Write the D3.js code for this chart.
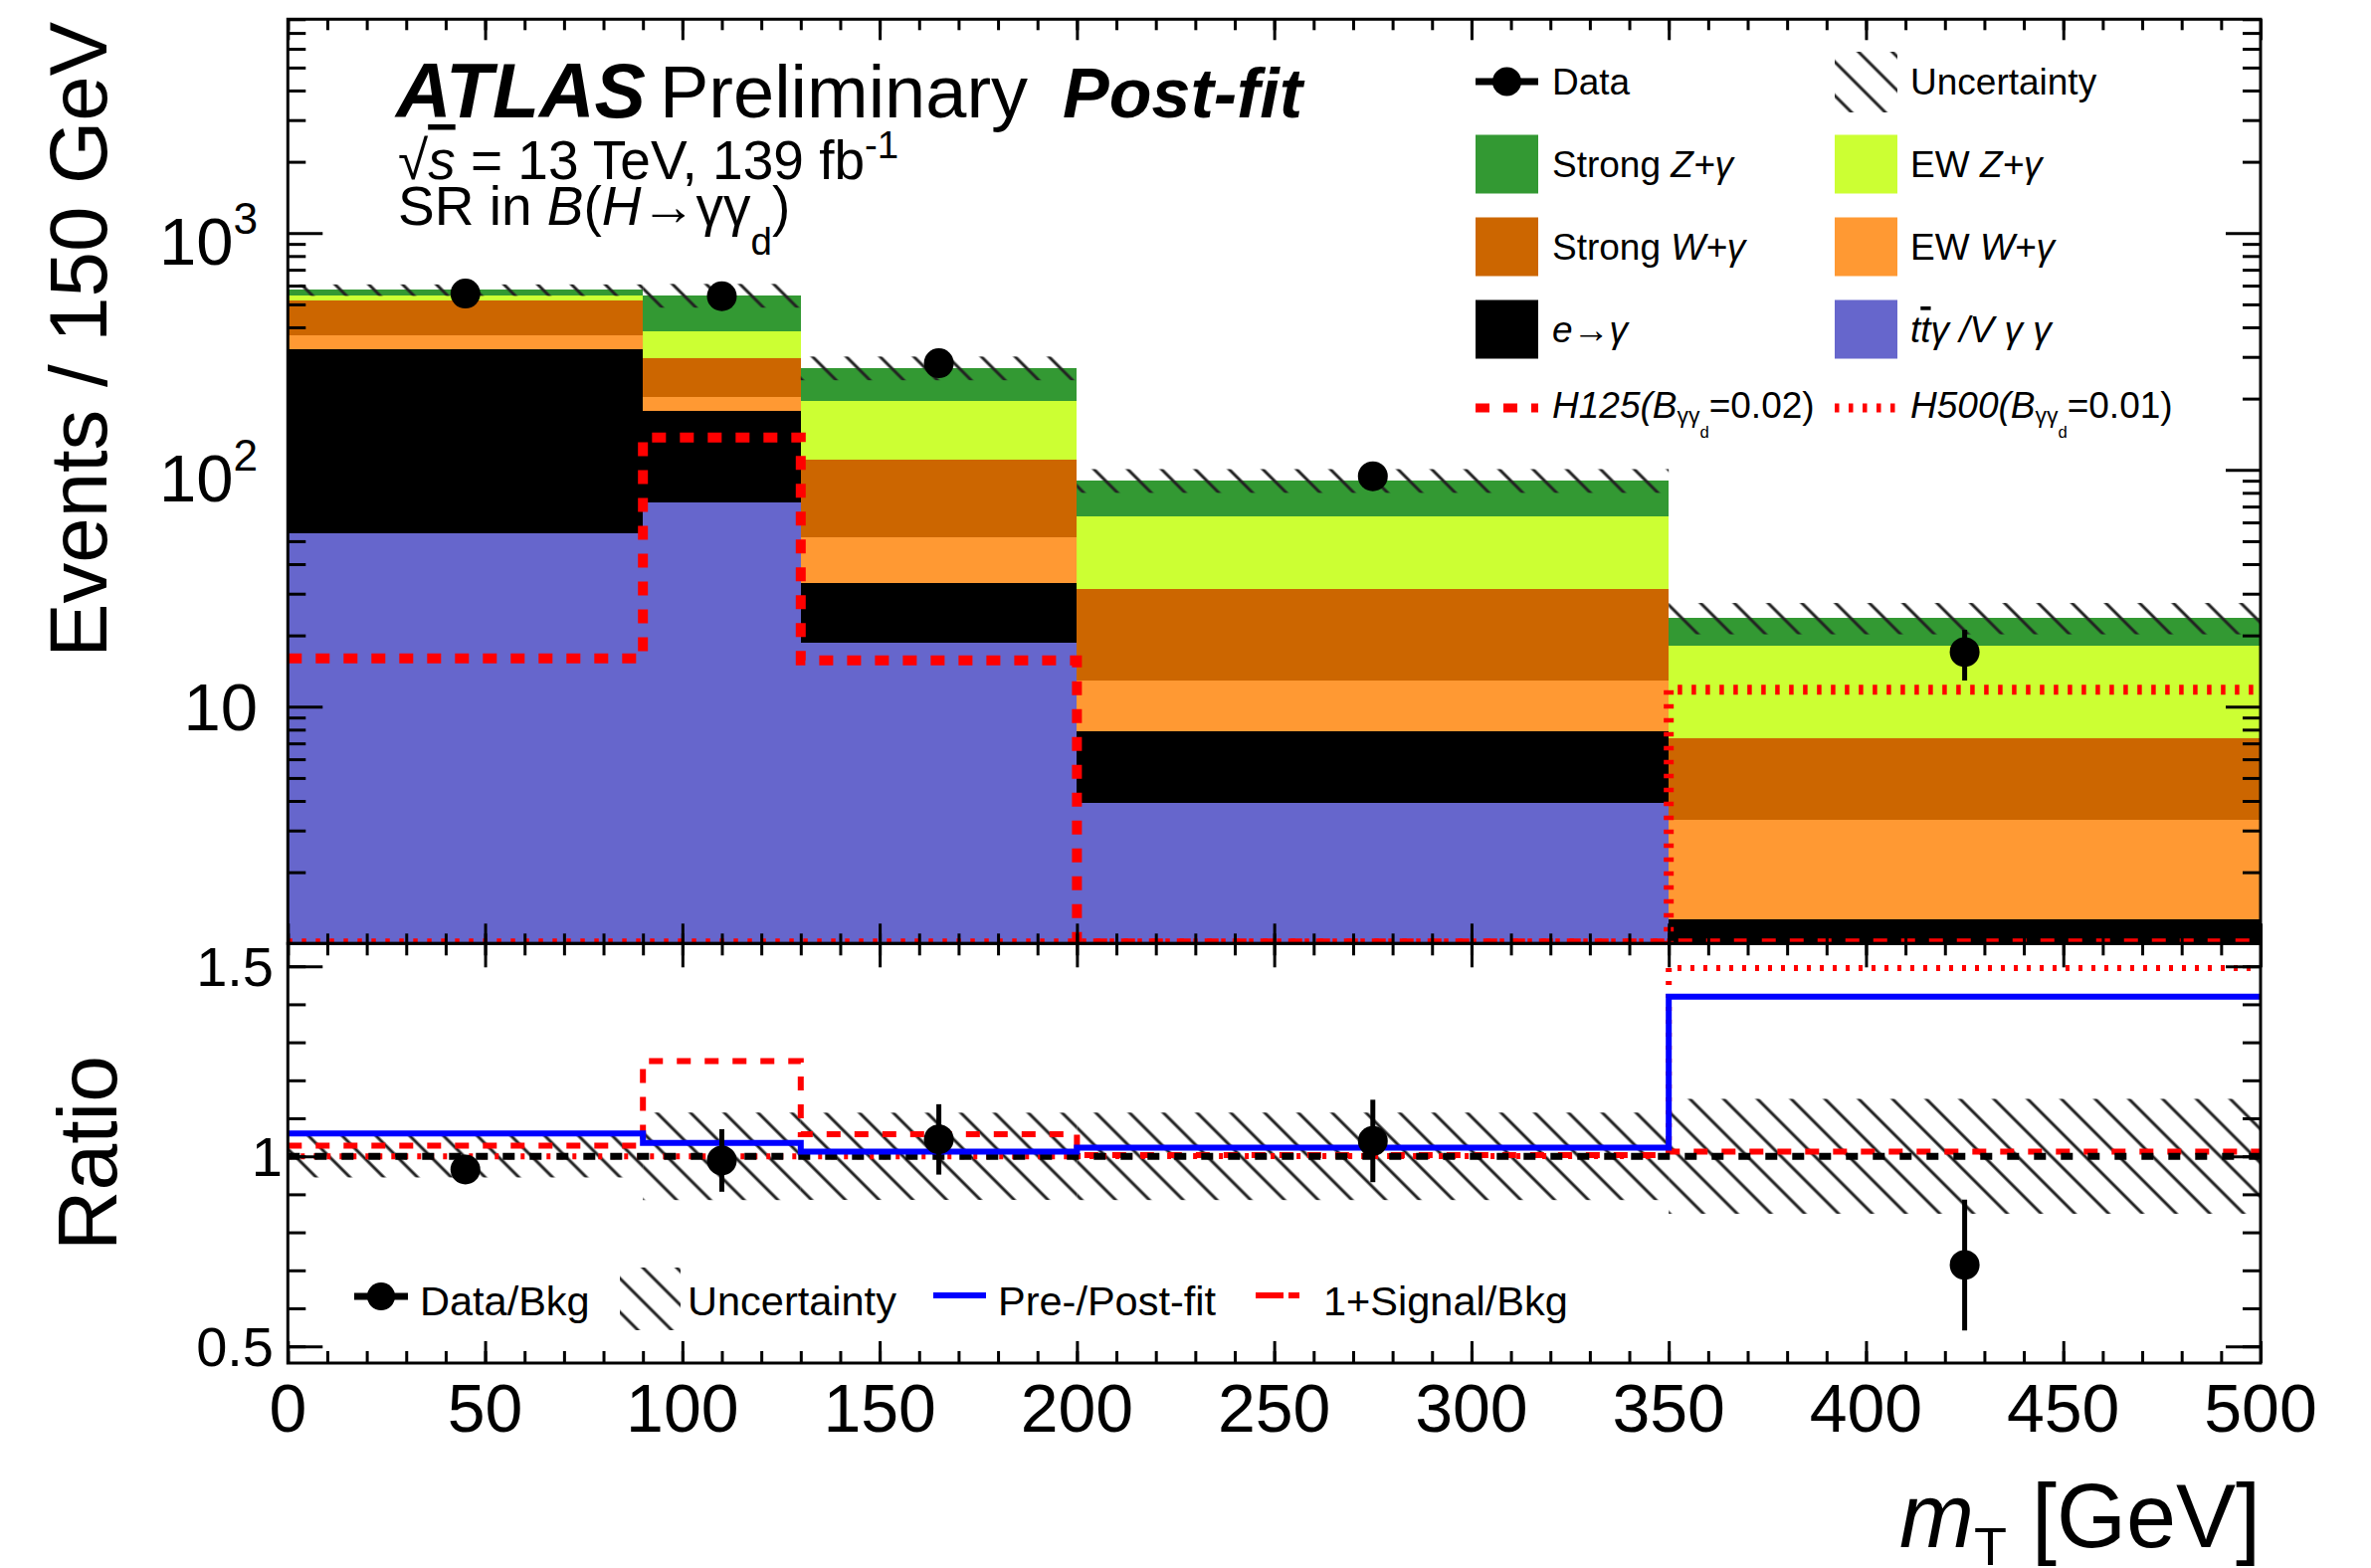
<!DOCTYPE html>
<html>
<head>
<meta charset="utf-8">
<script src="https://cdn.jsdelivr.net/npm/d3@7"></script>
<style>
  html, body { margin: 0; padding: 0; background: #fff; }
  svg { display: block; font-family: "Liberation Sans", Arial, Helvetica, sans-serif; }
</style>
</head>
<body>
<svg id="chart" width="2383" height="1576"></svg>
<script>
// ---- binning in m_T [GeV] ----
const binEdges   = [0, 90, 130, 200, 350, 500];
const binCenters = [45, 110, 165, 275, 425];

// ---- post-fit background yields, Events / 150 GeV (stack order bottom -> top) ----
const ttgVgg       = [54, 73, 18.7, 3.93, 0.5];
const eFakeGamma   = [270, 105, 14.7, 3.92, 0.77];
const ewWgamma     = [46, 26, 18.3, 5.1, 2.07];
const strongWgamma = [147, 91, 58.3, 18.4, 4.03];
const ewZgamma     = [28, 89, 85, 32.1, 10.7];
const strongZgamma = [30, 163, 75, 26.9, 5.74];
const bkgUnc       = [32, 63, 31, 10.4, 3.6];

// ---- observed data ----
const dataYield = [555, 541, 282, 94, 17];
const dataErr   = [17, 45, 25, 9.8, 4.1];

// ---- signal hypotheses ----
const sigH125 = [16, 137, 15.7, 0.3, 0.3];
const sigH500 = [0.05, 0.05, 0.05, 0.05, 11.8];

// ---- pre-fit / post-fit background ratio ----
const preOverPostFit = [1.06, 1.035, 1.012, 1.023, 1.42];

// ---- tick labels ----
const xTickValues = [0, 50, 100, 150, 200, 250, 300, 350, 400, 450, 500];
const xTickLabels = ["0", "50", "100", "150", "200", "250", "300", "350", "400", "450", "500"];
const mainTickValues = [10, 100, 1000];
const mainTickExponents = ["", "2", "3"];
const ratioTickValues = [0.5, 1, 1.5];
const ratioTickLabels = ["0.5", "1", "1.5"];

// ---- layout ----
const F = { left: 289.3, right: 2272, top: 19.3, mid: 948.3, bottom: 1370 };
const svg = d3.select("#chart");

const x = d3.scaleLinear().domain([0, 500]).range([F.left, F.right]);
const yMain = d3.scaleLog().domain([1, 8000]).range([F.mid, F.top]).clamp(true);
const yRatio = d3.scaleLinear().domain([0.456, 1.56]).range([F.bottom, F.mid]);

const keys = ["ttgVgg", "eFakeGamma", "ewWgamma", "strongWgamma", "ewZgamma", "strongZgamma"];
const series = { ttgVgg, eFakeGamma, ewWgamma, strongWgamma, ewZgamma, strongZgamma };
const colors = {
  ttgVgg: "#6666cc", eFakeGamma: "#000000", ewWgamma: "#ff9933",
  strongWgamma: "#cc6600", ewZgamma: "#ccff33", strongZgamma: "#339933"
};
const rows = binCenters.map((c, i) => {
  const r = { bin: i };
  keys.forEach(k => r[k] = series[k][i]);
  return r;
});
const stacked = d3.stack().keys(keys)(rows);
const totals = rows.map(r => d3.sum(keys, k => r[k]));

// ---- defs: clip paths and hatch pattern ----
const defs = svg.append("defs");
defs.append("clipPath").attr("id", "clipMain").append("rect")
  .attr("x", F.left).attr("y", F.top).attr("width", F.right - F.left).attr("height", F.mid - F.top);
defs.append("clipPath").attr("id", "clipRatio").append("rect")
  .attr("x", F.left).attr("y", F.mid).attr("width", F.right - F.left).attr("height", F.bottom - F.mid);
const pat = defs.append("pattern").attr("id", "hatch")
  .attr("patternUnits", "userSpaceOnUse").attr("width", 24).attr("height", 24)
  .attr("patternTransform", "rotate(45)");
pat.append("line").attr("x1", -2).attr("x2", 26).attr("y1", 12).attr("y2", 12)
  .attr("stroke", "#222").attr("stroke-width", 3);

const stepPts = vals => vals.flatMap((v, i) => [[binEdges[i], v], [binEdges[i + 1], v]]);
const lineMain = d3.line().x(d => x(d[0])).y(d => yMain(d[1]));
const lineRatio = d3.line().x(d => x(d[0])).y(d => yRatio(d[1]));

// ================= upper panel =================
const gMain = svg.append("g").attr("clip-path", "url(#clipMain)");

gMain.selectAll("g.layer").data(stacked).join("g").attr("class", "layer")
  .attr("fill", d => colors[d.key])
  .selectAll("rect").data(d => d).join("rect")
  .attr("shape-rendering", "crispEdges")
  .attr("x", (d, i) => x(binEdges[i]))
  .attr("width", (d, i) => x(binEdges[i + 1]) - x(binEdges[i]))
  .attr("y", d => yMain(Math.max(d[1], 1)))
  .attr("height", d => yMain(Math.max(d[0], 1)) - yMain(Math.max(d[1], 1)));

// background uncertainty band
gMain.selectAll("rect.unc").data(totals).join("rect").attr("class", "unc")
  .attr("x", (d, i) => x(binEdges[i]))
  .attr("width", (d, i) => x(binEdges[i + 1]) - x(binEdges[i]))
  .attr("y", (d, i) => yMain(d + bkgUnc[i]))
  .attr("height", (d, i) => yMain(d - bkgUnc[i]) - yMain(d + bkgUnc[i]))
  .attr("fill", "url(#hatch)");

// signal histograms
gMain.append("path").attr("d", lineMain(stepPts(sigH125)))
  .attr("fill", "none").attr("stroke", "#ff0000").attr("stroke-width", 10)
  .attr("stroke-dasharray", "14,14");
gMain.append("path").attr("d", lineMain(stepPts(sigH500)))
  .attr("fill", "none").attr("stroke", "#ff0000").attr("stroke-width", 10)
  .attr("stroke-dasharray", "4.5,9.5");

// data points
const gData = svg.append("g");
gData.selectAll("line").data(dataYield).join("line")
  .attr("x1", (d, i) => x(binCenters[i])).attr("x2", (d, i) => x(binCenters[i]))
  .attr("y1", (d, i) => yMain(d - dataErr[i])).attr("y2", (d, i) => yMain(d + dataErr[i]))
  .attr("stroke", "#000").attr("stroke-width", 5);
gData.selectAll("circle").data(dataYield).join("circle")
  .attr("cx", (d, i) => x(binCenters[i])).attr("cy", d => yMain(d)).attr("r", 15)
  .attr("fill", "#000");

// ================= ratio panel =================
const gRatio = svg.append("g").attr("clip-path", "url(#clipRatio)");
gRatio.selectAll("rect.unc").data(totals).join("rect").attr("class", "unc")
  .attr("x", (d, i) => x(binEdges[i]))
  .attr("width", (d, i) => x(binEdges[i + 1]) - x(binEdges[i]))
  .attr("y", (d, i) => yRatio(1 + bkgUnc[i] / d))
  .attr("height", (d, i) => yRatio(1 - bkgUnc[i] / d) - yRatio(1 + bkgUnc[i] / d))
  .attr("fill", "url(#hatch)");

gRatio.append("path").attr("d", lineRatio(stepPts(sigH500.map((s, i) => 1 + s / totals[i]))))
  .attr("fill", "none").attr("stroke", "#ff0000").attr("stroke-width", 6)
  .attr("stroke-dasharray", "4,9");
gRatio.append("path").attr("d", lineRatio(stepPts(sigH125.map((s, i) => 1 + s / totals[i]))))
  .attr("fill", "none").attr("stroke", "#ff0000").attr("stroke-width", 6)
  .attr("stroke-dasharray", "14,14");
gRatio.append("line")
  .attr("x1", x(0)).attr("x2", x(500)).attr("y1", yRatio(1)).attr("y2", yRatio(1))
  .attr("stroke", "#000").attr("stroke-width", 7).attr("stroke-dasharray", "12,15");
gRatio.append("path").attr("d", lineRatio(stepPts(preOverPostFit)))
  .attr("fill", "none").attr("stroke", "#0000ff").attr("stroke-width", 6);

const ratioVals = dataYield.map((d, i) => d / totals[i]);
const ratioErrs = dataErr.map((e, i) => e / totals[i]);
const gRData = svg.append("g");
gRData.selectAll("line").data(ratioVals).join("line")
  .attr("x1", (d, i) => x(binCenters[i])).attr("x2", (d, i) => x(binCenters[i]))
  .attr("y1", (d, i) => yRatio(d - ratioErrs[i])).attr("y2", (d, i) => yRatio(d + ratioErrs[i]))
  .attr("stroke", "#000").attr("stroke-width", 5);
gRData.selectAll("circle").data(ratioVals).join("circle")
  .attr("cx", (d, i) => x(binCenters[i])).attr("cy", d => yRatio(d)).attr("r", 15)
  .attr("fill", "#000");

// ================= frames and ticks =================
function ticks(axisGen, tx, ty, values, len) {
  const g = svg.append("g").attr("transform", `translate(${tx},${ty})`)
    .call(axisGen.tickValues(values).tickSizeInner(-len).tickSizeOuter(0).tickFormat(""));
  g.select(".domain").remove();
  g.selectAll(".tick line").attr("stroke", "#000").attr("stroke-width", 3);
  g.selectAll(".tick text").remove();
}
const xMinor = x.ticks(50), xMajor = xTickValues;
const yMainAll = yMain.ticks().filter(v => v <= 8000);
const yMainMinor = yMainAll.filter(v => !mainTickValues.includes(v) && v !== 1);
const yRatioMinor = yRatio.ticks(10);

// upper panel
ticks(d3.axisLeft(yMain), F.left, 0, yMainMinor, 18);
ticks(d3.axisLeft(yMain), F.left, 0, mainTickValues, 35);
ticks(d3.axisRight(yMain), F.right, 0, yMainMinor, 18);
ticks(d3.axisRight(yMain), F.right, 0, mainTickValues, 35);
ticks(d3.axisTop(x), 0, F.top, xMinor, 11);
ticks(d3.axisTop(x), 0, F.top, xMajor, 21);
ticks(d3.axisBottom(x), 0, F.mid, xMinor, 10);
ticks(d3.axisBottom(x), 0, F.mid, xMajor, 20);
// ratio panel
ticks(d3.axisLeft(yRatio), F.left, 0, yRatioMinor, 18);
ticks(d3.axisLeft(yRatio), F.left, 0, ratioTickValues, 35);
ticks(d3.axisRight(yRatio), F.right, 0, yRatioMinor, 18);
ticks(d3.axisRight(yRatio), F.right, 0, ratioTickValues, 35);
ticks(d3.axisTop(x), 0, F.mid, xMinor, 12);
ticks(d3.axisTop(x), 0, F.mid, xMajor, 24);
ticks(d3.axisBottom(x), 0, F.bottom, xMinor, 12);
ticks(d3.axisBottom(x), 0, F.bottom, xMajor, 22);

svg.append("rect").attr("x", F.left).attr("y", F.top)
  .attr("width", F.right - F.left).attr("height", F.mid - F.top)
  .attr("fill", "none").attr("stroke", "#000").attr("stroke-width", 3);
svg.append("rect").attr("x", F.left).attr("y", F.mid)
  .attr("width", F.right - F.left).attr("height", F.bottom - F.mid)
  .attr("fill", "none").attr("stroke", "#000").attr("stroke-width", 3);

// ================= text helper =================
function rich(parent, xx, yy, size, parts, anchor) {
  const t = parent.append("text").attr("x", xx).attr("y", yy)
    .attr("font-size", size).attr("text-anchor", anchor || "start");
  let cur = 0;
  parts.forEach(p => {
    const s = t.append("tspan").text(p.t);
    const shift = p.dy || 0;
    s.attr("dy", shift - cur); cur = shift;
    if (p.scale) s.attr("font-size", size * p.scale);
    if (p.i) s.attr("font-style", "italic");
    if (p.b) s.attr("font-weight", "bold");
    if (p.over) s.style("text-decoration", "overline");
    if (p.dx) s.attr("dx", p.dx);
  });
  return t;
}

// tick labels
xTickValues.forEach((v, i) => {
  svg.append("text").attr("x", x(v)).attr("y", 1439).attr("font-size", 68)
    .attr("text-anchor", "middle").text(xTickLabels[i]);
});
mainTickValues.forEach((v, i) => {
  const e = mainTickExponents[i];
  if (e === "") rich(svg, 259, yMain(v) + 24, 67, [{ t: "10" }], "end");
  else rich(svg, 259, yMain(v) + 32, 67, [{ t: "10" }, { t: e, scale: 0.66, dy: -31 }], "end");
});
ratioTickValues.forEach((v, i) => {
  svg.append("text").attr("x", v === 1 ? 284 : 275).attr("y", yRatio(v) + 20).attr("font-size", 56)
    .attr("text-anchor", "end").text(ratioTickLabels[i]);
});

// axis titles
svg.append("text").attr("transform", "translate(107,22) rotate(-90)")
  .attr("font-size", 81.5).attr("text-anchor", "end").text("Events / 150 GeV");
svg.append("text").attr("transform", `translate(117,${(F.mid + F.bottom) / 2}) rotate(-90)`)
  .attr("font-size", 84).attr("text-anchor", "middle").text("Ratio");
rich(svg, F.right, 1555, 90, [
  { t: "m", i: true }, { t: "T", scale: 0.6, dy: 18 }, { t: " [GeV]", dy: 0 }
], "end");

// ATLAS label
svg.append("text").attr("x", 398).attr("y", 118).attr("font-size", 77)
  .attr("font-weight", "bold").attr("font-style", "italic").text("ATLAS");
svg.append("text").attr("x", 663).attr("y", 118).attr("font-size", 74).text("Preliminary");
svg.append("text").attr("x", 1068).attr("y", 118).attr("font-size", 70)
  .attr("font-weight", "bold").attr("font-style", "italic").text("Post-fit");
rich(svg, 400, 180, 55, [
  { t: "√" }, { t: "s", i: true, over: true }, { t: " = 13 TeV, 139 fb" },
  { t: "-1", scale: 0.7, dy: -21 }
]);
rich(svg, 400, 226, 55, [
  { t: "SR in " }, { t: "B", i: true }, { t: "(" }, { t: "H", i: true }, { t: "→γγ" },
  { t: "d", scale: 0.7, dy: 30 }, { t: ")", dy: 0 }
]);

// ================= upper legend =================
const legTop = svg.append("g");
const col1 = 1483, col2 = 1844, boxW = 63, boxH = 59, textOff1 = 77, textOff2 = 76;
const rowY = [82, 165, 248, 331, 410];
const legFont = 37;

// Data
legTop.append("line").attr("x1", col1).attr("x2", col1 + boxW).attr("y1", rowY[0]).attr("y2", rowY[0])
  .attr("stroke", "#000").attr("stroke-width", 7);
legTop.append("circle").attr("cx", col1 + boxW / 2).attr("cy", rowY[0]).attr("r", 14.5).attr("fill", "#000");
rich(legTop, col1 + textOff1, rowY[0] + 13, legFont, [{ t: "Data" }]);
// Uncertainty
legTop.append("rect").attr("x", col2).attr("y", rowY[0] - 30).attr("width", boxW).attr("height", 61)
  .attr("fill", "url(#hatch)");
rich(legTop, col2 + textOff2, rowY[0] + 13, legFont, [{ t: "Uncertainty" }]);

const legendBoxes = [
  { key: "strongZgamma", col: col1, row: 1, parts: [{ t: "Strong " }, { t: "Z+γ", i: true }] },
  { key: "ewZgamma", col: col2, row: 1, parts: [{ t: "EW " }, { t: "Z+γ", i: true }] },
  { key: "strongWgamma", col: col1, row: 2, parts: [{ t: "Strong " }, { t: "W+γ", i: true }] },
  { key: "ewWgamma", col: col2, row: 2, parts: [{ t: "EW " }, { t: "W+γ", i: true }] },
  { key: "eFakeGamma", col: col1, row: 3, parts: [{ t: "e", i: true }, { t: "→" }, { t: "γ", i: true }] },
  { key: "ttgVgg", col: col2, row: 3, parts: [{ t: "t", i: true }, { t: "t", i: true, over: true }, { t: "γ /V γ γ", i: true }] }
];
legendBoxes.forEach(e => {
  legTop.append("rect").attr("x", e.col).attr("y", rowY[e.row] - boxH / 2)
    .attr("width", boxW).attr("height", boxH).attr("fill", colors[e.key]);
  rich(legTop, e.col + (e.col === col1 ? textOff1 : textOff2), rowY[e.row] + 13, legFont, e.parts);
});

// signal entries
legTop.append("line").attr("x1", col1).attr("x2", col1 + boxW).attr("y1", rowY[4]).attr("y2", rowY[4])
  .attr("stroke", "#ff0000").attr("stroke-width", 9).attr("stroke-dasharray", "14,14");
legTop.append("line").attr("x1", col2).attr("x2", col2 + boxW).attr("y1", rowY[4]).attr("y2", rowY[4])
  .attr("stroke", "#ff0000").attr("stroke-width", 9).attr("stroke-dasharray", "4.5,9.5");
rich(legTop, col1 + textOff1, rowY[4] + 10, legFont, [
  { t: "H", i: true }, { t: "125(", i: true }, { t: "B", i: true },
  { t: "γγ", scale: 0.62, dy: 5 }, { t: "d", scale: 0.45, dy: 20 }, { t: "=0.02)", dy: 0 }
]);
rich(legTop, col2 + textOff2, rowY[4] + 10, legFont, [
  { t: "H", i: true }, { t: "500(", i: true }, { t: "B", i: true },
  { t: "γγ", scale: 0.62, dy: 5 }, { t: "d", scale: 0.45, dy: 20 }, { t: "=0.01)", dy: 0 }
]);

// ================= ratio legend =================
const legR = svg.append("g");
const rY = 1303, rFont = 41.5, rBase = 1322;
legR.append("line").attr("x1", 356).attr("x2", 410).attr("y1", rY).attr("y2", rY)
  .attr("stroke", "#000").attr("stroke-width", 7);
legR.append("circle").attr("cx", 383).attr("cy", rY).attr("r", 14).attr("fill", "#000");
legR.append("text").attr("x", 422).attr("y", rBase).attr("font-size", rFont).text("Data/Bkg");
legR.append("rect").attr("x", 623).attr("y", 1274).attr("width", 61).attr("height", 63)
  .attr("fill", "url(#hatch)");
legR.append("text").attr("x", 691).attr("y", rBase).attr("font-size", rFont).text("Uncertainty");
legR.append("line").attr("x1", 938).attr("x2", 991).attr("y1", rY - 1).attr("y2", rY - 1)
  .attr("stroke", "#0000ff").attr("stroke-width", 6);
legR.append("text").attr("x", 1003).attr("y", rBase).attr("font-size", rFont).text("Pre-/Post-fit");
legR.append("line").attr("x1", 1262).attr("x2", 1306).attr("y1", rY - 1).attr("y2", rY - 1)
  .attr("stroke", "#ff0000").attr("stroke-width", 6).attr("stroke-dasharray", "28,5,11,60");
legR.append("text").attr("x", 1330).attr("y", rBase).attr("font-size", rFont).text("1+Signal/Bkg");
</script>
</body>
</html>
